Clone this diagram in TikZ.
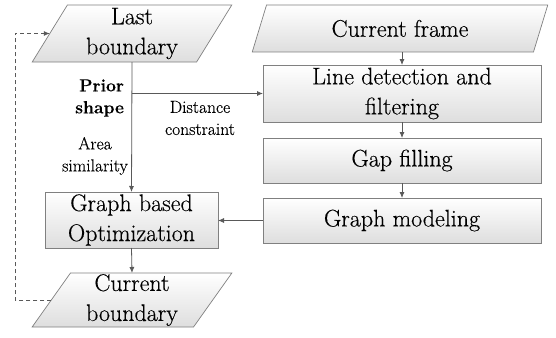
\documentclass[tikz,border=0pt]{standalone}
\usepackage{fontspec}
\setmainfont{Latin Modern Roman}[FakeBold=0.35]
\usetikzlibrary{shapes.geometric,arrows.meta}
\begin{document}
\begin{tikzpicture}[x=1pt,y=-1pt,
  every node/.style={inner sep=0pt,outer sep=0pt},
  bigtxt/.style={font=\rmfamily\fontsize{24}{30}\selectfont,align=center},
  smalltxt/.style={font=\rmfamily\fontsize{17.5}{22}\selectfont},
  shadebox/.style={draw=black!50,line width=0.7pt,top color=white,bottom color=black!13},
  procbox/.style={shadebox,bigtxt,rectangle},
  iobox/.style={shadebox,bigtxt,trapezium,trapezium stretches=true},
  arr/.style={draw=black!65,line width=0.8pt,-{Latex[length=6pt,width=5pt]}}]
\useasboundingbox (0,0) rectangle (556,337);

% input/output shapes
\node[iobox,trapezium left angle=64,trapezium right angle=116,minimum width=200,minimum height=57] (lb) at (132,33.5) {Last\\boundary};
\node[iobox,trapezium left angle=67,trapezium right angle=113,minimum width=296,minimum height=47] (cf) at (400,28.5) {Current frame};
\node[iobox,trapezium left angle=61,trapezium right angle=119,minimum width=200,minimum height=54] (cb) at (132,300) {Current\\boundary};

% process boxes
\node[procbox,minimum width=278,minimum height=57] (ld) at (402,93.5) {Line detection and\\filtering};
\node[procbox,minimum width=278,minimum height=45] (gf) at (402,160.5) {Gap filling};
\node[procbox,minimum width=278,minimum height=45] (gm) at (402,220.5) {Graph modeling};
\node[procbox,minimum width=173,minimum height=56] (go) at (131.5,220) {Graph based\\Optimization};

% labels
\node[align=right,anchor=east,font=\rmfamily\fontsize{17.5}{22}\selectfont\bfseries] (ps) at (124,98) {Prior\\shape};
\node[smalltxt,align=center] (dc) at (200,118) {Distance\\constraint};
\node[smalltxt,align=center] (as) at (95,156) {Area\\similarity};

% connectors
\coordinate (j) at (lb.south |- ld.west);
\coordinate (dl) at (15,0);
\draw[arr] (lb.south) -- (go.north);
\draw[arr] (j) -- (ld.west);
\draw[arr] (ld.north |- cf.south) -- (ld.north);
\draw[arr] (ld.south) -- (gf.north);
\draw[arr] (gf.south) -- (gm.north);
\draw[arr] (gm.west) -- (go.east |- gm.west);
\draw[arr] (go.south) -- (cb.north);
\draw[arr,dash pattern=on 4pt off 3pt] (cb.west) -- (cb.west -| dl) |- (lb.west);
\end{tikzpicture}
\end{document}
